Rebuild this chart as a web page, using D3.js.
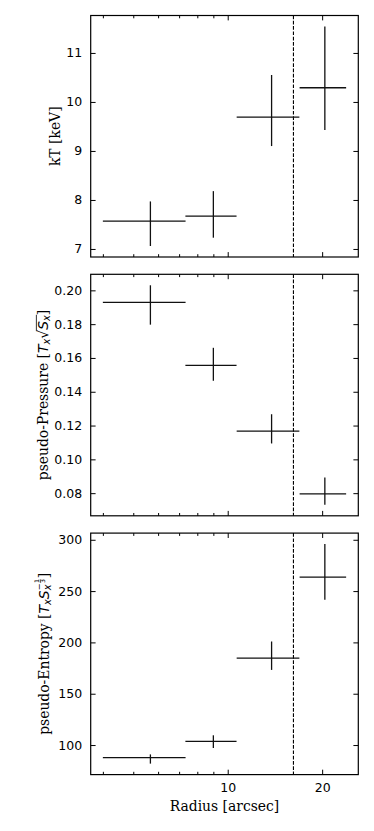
<!DOCTYPE html>
<html><head><meta charset="utf-8">
<script src="https://cdn.jsdelivr.net/npm/d3@7"></script>
<style>
html,body{margin:0;padding:0;background:#fff;}
svg{display:block;}
</style></head>
<body>
<svg id="chart" width="374" height="831"></svg>
<script>
// ---- data ----
const radius = [5.67, 9.0, 13.8, 20.4];
const radiusErr = [1.67, 1.67, 3.12, 3.45];
const kT = [7.57, 7.67, 9.69, 10.29];
const kTLow = [7.06, 7.23, 9.10, 9.43];
const kTHigh = [7.97, 8.18, 10.55, 11.54];
const pressure = [0.1929, 0.1556, 0.1167, 0.0796];
const pressureLow = [0.1797, 0.1465, 0.1094, 0.0731];
const pressureHigh = [0.2030, 0.1660, 0.1267, 0.0892];
const entropy = [87.7, 103.6, 184.6, 263.6];
const entropyLow = [81.9, 97.1, 173.2, 241.5];
const entropyHigh = [90.9, 109.5, 200.9, 295.8];
const cutRadius = 16.2;
const xTickValues = [10, 20];
const xMinorTicks = [4, 5, 6, 7, 8, 9];
const kTTicks = [7, 8, 9, 10, 11];
const pressureTicks = [0.08, 0.10, 0.12, 0.14, 0.16, 0.18, 0.20];
const entropyTicks = [100, 150, 200, 250, 300];

// ---- layout ----
const svg = d3.select("#chart");
const left = 90.7, right = 358.3;
const panelH = 241.5, gap = 17.3, top0 = 15.5;
const tickFont = "12.5px 'DejaVu Sans'";
const serif = "'DejaVu Serif'";
const labelSize = 13.9;

// x scale (log) with matplotlib-like 5% margins in log space
const xLo = d3.min(radius.map((r,i)=>r-radiusErr[i]));
const xHi = d3.max(radius.map((r,i)=>r+radiusErr[i]));
const lx0 = Math.log10(xLo), lx1 = Math.log10(xHi), lm = (lx1-lx0)*0.05;
const x = d3.scaleLog().domain([10**(lx0-lm), 10**(lx1+lm)]).range([left, right]);

function pad(lo, hi){ const m=(hi-lo)*0.05; return [lo-m, hi+m]; }

const panels = [
  {vals:kT, lo:kTLow, hi:kTHigh, ticks:kTTicks, fmt:d3.format("d"), label:"kT"},
  {vals:pressure, lo:pressureLow, hi:pressureHigh, ticks:pressureTicks, fmt:d3.format(".2f"), label:"P"},
  {vals:entropy, lo:entropyLow, hi:entropyHigh, ticks:entropyTicks, fmt:d3.format("d"), label:"K"}
];

panels.forEach((p, pi) => {
  const top = top0 + pi*(panelH+gap), bottom = top + panelH;
  const y = d3.scaleLinear().domain(pad(d3.min(p.lo), d3.max(p.hi))).range([bottom, top]);
  const g = svg.append("g");

  // dashed cut line
  g.append("line").attr("x1", x(cutRadius)).attr("x2", x(cutRadius))
    .attr("y1", top).attr("y2", bottom)
    .attr("stroke", "#000").attr("stroke-width", 1.1).attr("stroke-dasharray", "3.7,1.6");

  // error bars
  p.vals.forEach((v, i) => {
    g.append("line").attr("x1", x(radius[i]-radiusErr[i])).attr("x2", x(radius[i]+radiusErr[i]))
      .attr("y1", y(v)).attr("y2", y(v)).attr("stroke", "#111").attr("stroke-width", 1.3);
    g.append("line").attr("x1", x(radius[i])).attr("x2", x(radius[i]))
      .attr("y1", y(p.lo[i])).attr("y2", y(p.hi[i])).attr("stroke", "#111").attr("stroke-width", 1.3);
  });

  // axes (ticks inward)
  const axL = g.append("g").attr("transform", `translate(${left},0)`)
    .call(d3.axisLeft(y).tickValues(p.ticks).tickFormat(p.fmt).tickSizeInner(-4.9).tickSizeOuter(0).tickPadding(8.5));
  const axR = g.append("g").attr("transform", `translate(${right},0)`)
    .call(d3.axisRight(y).tickValues(p.ticks).tickFormat("").tickSizeInner(-4.9).tickSizeOuter(0));
  const axT = g.append("g").attr("transform", `translate(0,${top})`)
    .call(d3.axisTop(x).tickValues(xTickValues).tickFormat("").tickSizeInner(-4.9).tickSizeOuter(0));
  const axTm = g.append("g").attr("transform", `translate(0,${top})`)
    .call(d3.axisTop(x).tickValues(xMinorTicks).tickFormat("").tickSizeInner(-2.8).tickSizeOuter(0));
  const axB = g.append("g").attr("transform", `translate(0,${bottom})`)
    .call(d3.axisBottom(x).tickValues(xTickValues).tickFormat(pi===2 ? d3.format("d") : "").tickSizeInner(-4.9).tickSizeOuter(0).tickPadding(8.5));
  const axBm = g.append("g").attr("transform", `translate(0,${bottom})`)
    .call(d3.axisBottom(x).tickValues(xMinorTicks).tickFormat("").tickSizeInner(-2.8).tickSizeOuter(0));
  [axL, axR, axT, axTm, axB, axBm].forEach(a => {
    a.select(".domain").remove();
    a.selectAll(".tick line").attr("stroke", "#000").attr("stroke-width", 1);
    a.selectAll(".tick text").style("font", tickFont).attr("fill", "#000");
  });

  // frame
  g.append("rect").attr("x", left).attr("y", top).attr("width", right-left).attr("height", panelH)
    .attr("fill", "none").attr("stroke", "#000").attr("stroke-width", 1.2);

  // y label
  const yc = (top+bottom)/2;
  const lx = pi===0 ? 60 : (pi===1 ? 47.5 : 48.5);
  const lg = svg.append("g").attr("transform", `translate(${lx},${yc}) rotate(-90)`);
  let cx = 0;
  function piece(t, fam, size, dy, italic){
    const e = lg.append("text").attr("x", cx).attr("y", dy).text(t)
      .style("font-family", fam).style("font-size", size+"px")
      .style("font-style", italic ? "italic" : "normal").attr("fill", "#000");
    const w = e.node().getComputedTextLength();
    const r = {el:e, x0:cx, w:w, dy:dy, size:size};
    cx += w; return r;
  }
  const sans = "'DejaVu Sans'";
  if (p.label === "kT") {
    piece("kT [keV]", serif, labelSize, 0, false);
  } else if (p.label === "P") {
    piece("pseudo-Pressure [", serif, labelSize, 0, false);
    piece("T", sans, labelSize, 0, true);
    piece("x", sans, labelSize*0.7, 2.6, true);
    const rad = piece("\u221A", sans, labelSize, 0, false);
    piece("S", sans, labelSize, 0, true);
    const sx = piece("x", sans, labelSize*0.7, 2.6, true);
    lg.append("line").attr("x1", rad.x0 + rad.w*0.85).attr("x2", sx.x0+sx.w+0.5)
      .attr("y1", -labelSize*0.8).attr("y2", -labelSize*0.8).attr("stroke", "#000").attr("stroke-width", 0.8);
    piece("]", serif, labelSize, 0, false);
  } else {
    piece("pseudo-Entropy [", serif, labelSize, 0, false);
    piece("T", sans, labelSize, 0, true);
    piece("x", sans, labelSize*0.7, 2.6, true);
    piece("S", sans, labelSize, 0, true);
    const sx = piece("x", sans, labelSize*0.7, 2.6, true);
    cx = sx.x0;
    piece("\u2212", sans, labelSize*0.6, -7, false);
    const fx = cx + 0.3;
    const one = lg.append("text").attr("x", fx).attr("y", -9.5).text("1")
      .style("font-family", sans).style("font-size", (labelSize*0.45)+"px").attr("fill","#000");
    const w1 = one.node().getComputedTextLength();
    lg.append("text").attr("x", fx).attr("y", -3.8).text("3")
      .style("font-family", sans).style("font-size", (labelSize*0.45)+"px").attr("fill","#000");
    lg.append("line").attr("x1", fx).attr("x2", fx+w1).attr("y1", -8.2).attr("y2", -8.2)
      .attr("stroke", "#000").attr("stroke-width", 0.5);
    cx = Math.max(fx + w1 + 0.8, sx.x0 + sx.w);
    piece("]", serif, labelSize, 0, false);
  }
  const total = cx;
  lg.selectAll("text").attr("transform", `translate(${-total/2},0)`);
  lg.selectAll("line").attr("transform", `translate(${-total/2},0)`);
});

// x label
svg.append("text").attr("x", (left+right)/2).attr("y", 810.5).attr("text-anchor", "middle")
  .style("font-family", serif).style("font-size", labelSize+"px").attr("fill", "#000")
  .text("Radius [arcsec]");
</script>
</body></html>
